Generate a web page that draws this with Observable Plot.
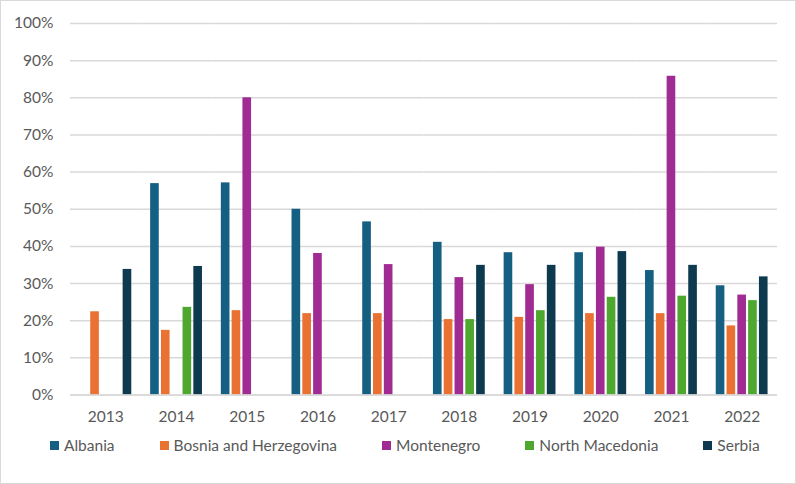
<!DOCTYPE html>
<html>
<head>
<meta charset="utf-8">
<script src="https://cdn.jsdelivr.net/npm/d3@7"></script>
<script src="https://cdn.jsdelivr.net/npm/@observablehq/plot@0.6"></script>
<style>
  html, body { margin: 0; padding: 0; background: #fff; }
  #wrap { position: relative; width: 796px; height: 484px; font-family: Lato, "Liberation Sans", sans-serif; }
  #border { position: absolute; left: 0; top: 0; width: 796px; height: 484px; box-sizing: border-box; border: 1px solid #d9d9d9; pointer-events: none; }
  #legend { position: absolute; left: 50px; top: 436px; display: flex; gap: 45px; font-size: 15.5px; color: #595959; white-space: nowrap; }
  .item { display: flex; align-items: center; }
  .sw { width: 9px; height: 9px; margin-right: 5px; }
</style>
</head>
<body>
<div id="wrap"><div id="chart"></div><div id="legend"></div><div id="border"></div></div>
<script>
const years = ["2013","2014","2015","2016","2017","2018","2019","2020","2021","2022"];
const countries = ["Albania","Bosnia and Herzegovina","Montenegro","North Macedonia","Serbia"];
const colors = ["#156082","#E97132","#A02B93","#4EA72E","#0E3A50"];
// values per country, aligned with years (null = no bar)
const albania    = [null, 0.569, 0.571, 0.500, 0.466, 0.411, 0.383, 0.383, 0.335, 0.294];
const bosnia     = [0.224, 0.174, 0.227, 0.219, 0.219, 0.203, 0.209, 0.219, 0.219, 0.186];
const montenegro = [null, null, 0.800, 0.381, 0.351, 0.316, 0.297, 0.398, 0.858, 0.269];
const northMac   = [null, 0.236, null, null, null, 0.203, 0.227, 0.263, 0.266, 0.254];
const serbia     = [0.338, 0.346, null, null, null, 0.349, 0.349, 0.386, 0.349, 0.318];
const yTicks = [0,0.1,0.2,0.3,0.4,0.5,0.6,0.7,0.8,0.9,1.0];

const series = [albania, bosnia, montenegro, northMac, serbia];
const data = [];
years.forEach((yr, i) => {
  countries.forEach((c, j) => {
    const v = series[j][i];
    if (v != null) data.push({year: yr, country: c, value: v});
  });
});

const chart = Plot.plot({
  width: 796,
  height: 430,
  marginLeft: 70,
  marginRight: 19,
  marginTop: 23,
  marginBottom: 35.5,
  style: {fontFamily: "Lato, 'Liberation Sans', sans-serif", fontSize: "15.5px", color: "#595959", background: "#fff"},
  fx: {domain: years, padding: 0, round: false, label: null, axis: "bottom", tickSize: 0, tickPadding: 16},
  x: {domain: countries, paddingInner: 0.2, paddingOuter: 0.873, round: false, axis: null},
  y: {domain: [0, 1], ticks: yTicks, tickFormat: d3.format(".0%"), label: null, tickSize: 0, tickPadding: 17},
  color: {domain: countries, range: colors},
  marks: [
    Plot.gridY(yTicks, {stroke: "#d9d9d9", strokeOpacity: 1, strokeWidth: 1.5}),
    Plot.barY(data, {fx: "year", x: "country", y: "value", fill: "country"}),
    Plot.ruleY([0], {stroke: "#d9d9d9", strokeWidth: 1.5})
  ]
});
document.getElementById("chart").appendChild(chart);

const legend = document.getElementById("legend");
countries.forEach((c, i) => {
  const item = document.createElement("div");
  item.className = "item";
  const sw = document.createElement("span");
  sw.className = "sw";
  sw.style.background = colors[i];
  const t = document.createElement("span");
  t.textContent = c;
  item.appendChild(sw);
  item.appendChild(t);
  legend.appendChild(item);
});
</script>
</body>
</html>
